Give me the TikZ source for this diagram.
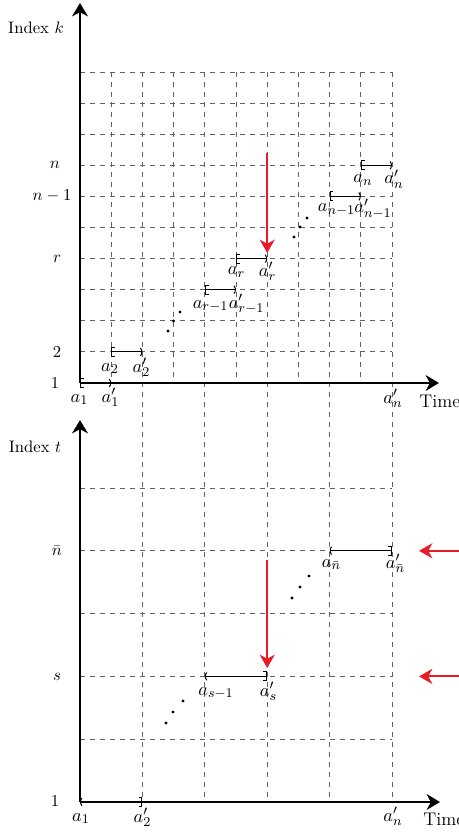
\documentclass[tikz,border=0pt]{standalone}
\usetikzlibrary{arrows,arrows.meta}
\definecolor{myred}{RGB}{232,28,40}
\begin{document}
\begin{tikzpicture}[x=0.6pt,y=-0.6pt,
  axis/.style={line width=1.2pt,-{Stealth[length=8pt,width=9.5pt,inset=2.5pt]}},
  gridline/.style={dashed,black!62,line width=0.5pt},
  ivtop/.style={line width=0.6pt,{Bracket[width=6pt,length=2pt]}-{Parenthesis[width=6pt,length=2pt]}},
  ivbot/.style={line width=0.6pt,{Parenthesis[width=6pt,length=2pt]}-{Bracket[width=6pt,length=2pt]}},
  redarrow/.style={myred,line width=1.3pt,-{Stealth[length=8pt,width=9pt,inset=2.5pt]}},
  lbl/.style={anchor=base,inner sep=0pt,font=\fontsize{11.4}{13}\selectfont},
  timelbl/.style={anchor=base west,inner sep=0pt,font=\fontsize{11}{13}\selectfont},
  rowlbl/.style={anchor=center},
  dot/.style={circle,fill=black,inner sep=0pt,minimum size=2pt}]
\useasboundingbox (0,0) rectangle (459,835);
% ---------- top grid ----------
\foreach \i in {0,...,9} {
  \draw[gridline] (80,{72+31.1*\i}) -- (392,{72+31.1*\i});
}
\foreach \j in {1,3,5,7,9} {
  \draw[gridline] ({80+31.2*\j},72) -- ({80+31.2*\j},383);
}
\foreach \j in {2,4,6,8,10} {
  \draw[gridline] ({80+31.2*\j},72) -- ({80+31.2*\j},802);
}
% ---------- bottom grid ----------
\foreach \i in {1,...,5} {
  \draw[gridline] (80,{802-62.8*\i}) -- (392,{802-62.8*\i});
}
% ---------- top axes ----------
\coordinate (O1) at (80,383);
\coordinate (Ytop) at (80,3);
\coordinate (Xtop) at (439,383);
\draw[axis] (O1) -- (Ytop);
\draw[axis] (O1) -- (Xtop);
\node (ik) at (36,28) {Index $k$};
\node[timelbl] (time1) at (419,407) {Time};
\node[rowlbl] (kn) at (55,165) {$n$};
\node[rowlbl] (kn1) at (52,196) {$n-1$};
\node[rowlbl] (kr) at (57,259) {$r$};
\node[rowlbl] (k2) at (57,352) {$2$};
\node[rowlbl] (k1) at (55,383) {$1$};
% intervals top
\coordinate (a1) at (80,383);   \coordinate (a1p) at (111.2,383);
\coordinate (a2) at (111.2,351.9); \coordinate (a2p) at (142.4,351.9);
\coordinate (ar1) at (204.8,289.7); \coordinate (ar1p) at (236,289.7);
\coordinate (ar) at (236,258.6); \coordinate (arp) at (267.2,258.6);
\coordinate (an1) at (329.6,196.4); \coordinate (an1p) at (360.8,196.4);
\coordinate (an) at (360.8,165.3); \coordinate (anp) at (392,165.3);
\draw[ivtop] (a1) -- (a1p);
\draw[ivtop] (a2) -- (a2p);
\draw[ivtop] (ar1) -- (ar1p);
\draw[ivtop] (ar) -- (arp);
\draw[ivtop] (an1) -- (an1p);
\draw[ivtop] (an) -- (anp);
\node[lbl] (la1) at (79.5,402) {$a_1$};
\node[lbl] (la1p) at (110.5,402) {$a'_1$};
\node[lbl] (la2) at (110,371) {$a_2$};
\node[lbl] (la2p) at (141.5,372) {$a'_2$};
\node[lbl] (lar1) at (210.5,308) {$a_{r-1}$};
\node[lbl] (lar1p) at (246.5,308) {$a'_{r-1}$};
\node[lbl] (lar) at (236.5,275) {$a_r$};
\node[lbl] (larp) at (267.5,276) {$a'_r$};
\node[lbl] (lan1) at (336.5,212) {$a_{n-1}$};
\node[lbl] (lan1p) at (373,213) {$a'_{n-1}$};
\node[lbl] (lan) at (363,183) {$a_n$};
\node[lbl] (lanp) at (394,184) {$a'_n$};
\node[lbl] (lanpT) at (393,403) {$a'_n$};
% dots top
\node[dot] (d1) at (168,331) {};
\node[dot] (d2) at (173.5,321) {};
\node[dot] (d3) at (180,312) {};
\node[dot] (d4) at (294,237) {};
\node[dot] (d5) at (300,227) {};
\node[dot] (d6) at (307,218) {};
% red arrow top
\coordinate (rt1) at (267.2,153);
\coordinate (rt2) at (267.2,253);
\draw[redarrow] (rt1) -- (rt2);
% ---------- bottom axes ----------
\coordinate (O2) at (80,802);
\coordinate (Ybot) at (80,420);
\coordinate (Xbot) at (440,802);
\draw[axis] (O2) -- (Ybot);
\draw[axis] (O2) -- (Xbot);
\node (it) at (35,447) {Index $t$};
\node[timelbl] (time2) at (423,825) {Time};
\node[rowlbl] (tnb) at (57,551) {$\bar{n}$};
\node[rowlbl] (ts) at (57,677) {$s$};
\node[rowlbl] (t1) at (55,801) {$1$};
% intervals bottom
\coordinate (b1) at (80,802); \coordinate (b2p) at (142.4,802);
\coordinate (bs1) at (204.8,676.4); \coordinate (bsp) at (267.2,676.4);
\coordinate (bnb) at (329.6,550.8); \coordinate (bnbp) at (392,550.8);
\draw[ivbot] (b1) -- (b2p);
\draw[ivbot] (bs1) -- (bsp);
\draw[ivbot] (bnb) -- (bnbp);
\node[lbl] (lb1) at (81,821) {$a_1$};
\node[lbl] (lb2p) at (142.5,822) {$a'_2$};
\node[lbl] (lbs1) at (216,695) {$a_{s-1}$};
\node[lbl] (lbsp) at (268.5,696) {$a'_s$};
\node[lbl] (lbnb) at (331.5,567) {$a_{\bar{n}}$};
\node[lbl] (lbnbp) at (395.5,568) {$a'_{\bar{n}}$};
\node[lbl] (lbnpT) at (393,821) {$a'_n$};
% dots bottom
\node[dot] (e1) at (166,723) {};
\node[dot] (e2) at (173,712) {};
\node[dot] (e3) at (183,701) {};
\node[dot] (e4) at (292,598) {};
\node[dot] (e5) at (300,587) {};
\node[dot] (e6) at (309,576) {};
% red arrows bottom
\coordinate (rb1) at (267.2,560);
\coordinate (rb2) at (267.2,668);
\draw[redarrow] (rb1) -- (rb2);
\coordinate (rr1s) at (470,550.8); \coordinate (rr1e) at (419,550.8);
\coordinate (rr2s) at (470,676.4); \coordinate (rr2e) at (419,676.4);
\draw[redarrow] (rr1s) -- (rr1e);
\draw[redarrow] (rr2s) -- (rr2e);
\end{tikzpicture}
\end{document}
